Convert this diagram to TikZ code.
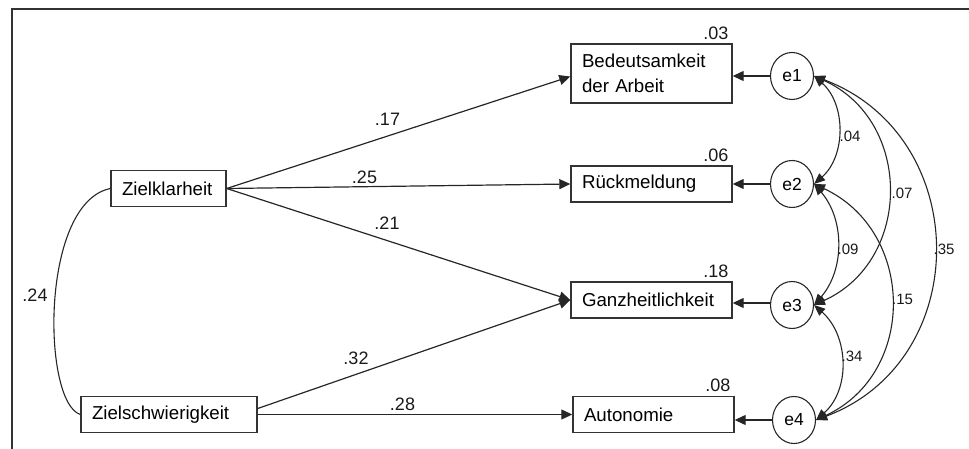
\documentclass[tikz,border=0pt]{standalone}
\usepackage{fontspec}
\setmainfont{Liberation Sans}
\usetikzlibrary{arrows.meta,shapes.geometric,calc}
\begin{document}
\begin{tikzpicture}[x=1pt,y=-1pt,
  obs/.style={draw=black!80, line width=1.4pt, minimum height=36pt, inner xsep=11pt, inner ysep=0pt,
    text width=#1, align=left, font=\fontsize{18.7}{25}\selectfont},
  err/.style={ellipse, draw=black!85, line width=1.1pt, minimum width=43pt, minimum height=47pt, inner sep=0pt,
    font=\fontsize{17.5}{20}\selectfont},
  patharrow/.style={line width=1.2pt, draw=black!85, -{Triangle[length=11pt,width=10pt]}},
  covarrow/.style={line width=1.1pt, draw=black!85, {Triangle[length=11pt,width=9pt]}-{Triangle[length=11pt,width=9pt]}},
  lab/.style={font=\fontsize{18}{20}\selectfont, inner sep=0pt, text=black!90},
  slab/.style={font=\fontsize{15}{18}\selectfont, inner sep=0pt, text=black!90}
]
\useasboundingbox (0,0) rectangle (969,449);
\draw[line width=1.6pt, black!80] (12,449) -- (12,9) -- (969,9);

% observed variables
\node[obs=93pt] (zk) at (168.5,188.5) {Zielklarheit};
\node[obs=154pt] (zs) at (169,414.5) {Zielschwierigkeit};
\node[obs=139pt, minimum height=59pt] (bed) at (651.5,73.5) {Bedeutsamkeit\\der Arbeit};
\node[obs=139pt] (rm) at (651.5,184) {Rückmeldung};
\node[obs=139pt] (gz) at (651.5,300) {Ganzheitlichkeit};
\node[obs=139pt] (au) at (653.5,414.5) {Autonomie};

% R^2
\node[lab, anchor=base east] (r1) at ($(bed.north east)+(-4,-4)$) {.03};
\node[lab, anchor=base east] (r2) at ($(rm.north east)+(-4,-4)$) {.06};
\node[lab, anchor=base east] (r3) at ($(gz.north east)+(-4,-4)$) {.18};
\node[lab, anchor=base east] (r4) at ($(au.north east)+(-4,-4)$) {.08};

% errors
\node[err] (e1) at (792,76) {e1};
\node[err] (e2) at (792,184) {e2};
\node[err] (e3) at (792,305) {e3};
\node[err] (e4) at (794,420) {e4};

% paths
\draw[patharrow] (zk.east) -- ([yshift=-3pt]bed.west);
\draw[patharrow] (zk.east) -- (rm.west);
\draw[patharrow] (zk.east) -- (gz.west);
\draw[patharrow] ([yshift=6pt]zs.east) -- (gz.west);
\draw[patharrow] (zs.east) -- (au.west);

\node[lab] (l17) at (387.5,119.5) {.17};
\node[lab] (l25) at (364.5,177) {.25};
\node[lab] (l21) at (387,223.5) {.21};
\node[lab] (l32) at (356,358.5) {.32};
\node[lab] (l28) at (402.5,404.5) {.28};

% error arrows
\draw[patharrow] (e1.west) -- (e1.west -| bed.east);
\draw[patharrow] (e2.west) -- (e2.west -| rm.east);
\draw[patharrow] ([yshift=2pt]e3.west) -- ([yshift=2pt]e3.west -| gz.east);
\draw[patharrow] (e4.west) -- (e4.west -| au.east);

% correlation of exogenous
\draw[line width=1.1pt, draw=black!85] (zk.west) .. controls (40,203) and (42,402) .. (zs.west);
\node[lab] (l24) at (35,295) {.24};

% error covariances
\draw[covarrow] (e1.east) .. controls +(32,28.1) and +(32,-28.1) .. (e2.east);
\draw[covarrow] (e2.east) .. controls +(30.7,35.3) and +(30.7,-35.3) .. (e3.east);
\draw[covarrow] (e3.east) .. controls +(34.7,30.5) and +(34.7,-30.5) .. (e4.east);
\draw[covarrow] (e1.east) .. controls +(98.7,44.5) and +(98.7,-44.5) .. (e3.east);
\draw[covarrow] (e2.east) .. controls +(101.2,47) and +(101.2,-47) .. (e4.east);
\draw[covarrow] (e1.east) .. controls +(158.7,59.8) and +(158.7,-59.8) .. (e4.east);

\node[slab] (c04) at (850,136) {.04};
\node[slab] (c09) at (848,249) {.09};
\node[slab] (c34) at (852,356) {.34};
\node[slab] (c07) at (902,193.5) {.07};
\node[slab] (c15) at (902.5,299.5) {.15};
\node[slab] (c35) at (944,249) {.35};
\end{tikzpicture}
\end{document}
